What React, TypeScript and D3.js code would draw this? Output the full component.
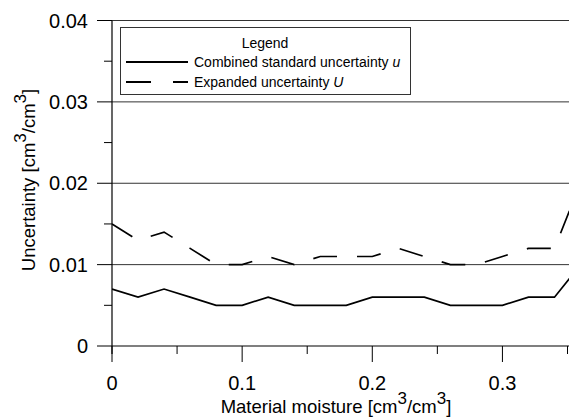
import * as d3 from "d3";

const moisture = [0, 0.02, 0.04, 0.06, 0.08, 0.1, 0.12, 0.14, 0.16, 0.18, 0.2, 0.22, 0.24, 0.26, 0.28, 0.3, 0.32, 0.34, 0.36];
const combinedU = [0.007, 0.006, 0.007, 0.006, 0.005, 0.005, 0.006, 0.005, 0.005, 0.005, 0.006, 0.006, 0.006, 0.005, 0.005, 0.005, 0.006, 0.006, 0.01];
const expandedU = [0.015, 0.013, 0.014, 0.012, 0.01, 0.01, 0.011, 0.01, 0.011, 0.011, 0.011, 0.012, 0.011, 0.01, 0.01, 0.011, 0.012, 0.012, 0.02];
const xTicks = [0, 0.1, 0.2, 0.3];
const xMinor = [0.05, 0.15, 0.25, 0.35];
const yTicks = [0, 0.01, 0.02, 0.03, 0.04];
const yMinor = [0.005, 0.015, 0.025, 0.035];

const W = 569;
const H = 419;
const FONT = "Arial, 'Liberation Sans', sans-serif";

// "[cm3/cm3]" with raised 3s
function Units() {
  return (
    <>
      [cm<tspan fontSize={17} dy={-9}>3</tspan>
      <tspan dy={9}>/cm</tspan>
      <tspan fontSize={17} dy={-9}>3</tspan>
      <tspan dy={9}>]</tspan>
    </>
  );
}

export default function App() {
  const x = d3.scaleLinear().domain([0, 0.35]).range([112, 567.5]);
  const y = d3.scaleLinear().domain([0, 0.04]).range([346, 20.5]);

  const line = (vals: number[]) =>
    d3
      .line<number>()
      .x((_, i) => x(moisture[i]))
      .y((d) => y(d))(vals) || "";

  const fmt = (v: number) => (v === 0 ? "0" : String(v));

  return (
    <svg width={W} height={H} style={{ position: "absolute", left: 0, top: 0 }} fontFamily={FONT}>
      <defs>
        <clipPath id="plot">
          <rect x={112} y={0} width={W - 112} height={346} />
        </clipPath>
      </defs>

      {/* grid lines */}
      {yTicks.slice(1).map((t) => (
        <line key={t} x1={112} x2={W} y1={y(t)} y2={y(t)} stroke="#333" strokeWidth={1} />
      ))}

      {/* y axis */}
      <line x1={112} x2={112} y1={y(0.04)} y2={y(0) + 8} stroke="#000" strokeWidth={1.2} />
      {yTicks.map((t) => (
        <g key={t}>
          <line x1={97} x2={112} y1={y(t)} y2={y(t)} stroke="#000" />
          <text x={88} y={y(t)} dy="0.35em" textAnchor="end" fontSize={20}>
            {fmt(t)}
          </text>
        </g>
      ))}
      {yMinor.map((t) => (
        <line key={t} x1={104} x2={112} y1={y(t)} y2={y(t)} stroke="#000" />
      ))}

      {/* x axis */}
      <line x1={112} x2={W} y1={y(0)} y2={y(0)} stroke="#000" strokeWidth={1.2} />
      {xTicks.map((t) => (
        <g key={t}>
          <line x1={x(t)} x2={x(t)} y1={y(0)} y2={y(0) + 16} stroke="#000" />
          <text x={x(t)} y={390} textAnchor="middle" fontSize={20}>
            {fmt(t)}
          </text>
        </g>
      ))}
      {xMinor.map((t) => (
        <line key={t} x1={x(t)} x2={x(t)} y1={y(0)} y2={y(0) + 8} stroke="#000" />
      ))}

      {/* axis titles */}
      <text x={336} y={413} textAnchor="middle" fontSize={18.5}>
        Material moisture <Units />
      </text>
      <text transform="translate(35,180) rotate(-90)" textAnchor="middle" fontSize={18.5}>
        Uncertainty <Units />
      </text>

      {/* data lines */}
      <g clipPath="url(#plot)" fill="none" stroke="#000" strokeWidth={1.7}>
        <path d={line(combinedU)} />
        <path d={line(expandedU)} strokeDasharray="24 20" />
      </g>

      {/* legend */}
      <rect x={120.5} y={27.5} width={290} height={67} fill="#fff" stroke="#333" />
      <text x={265} y={48} textAnchor="middle" fontSize={14}>
        Legend
      </text>
      <line x1={126} x2={188} y1={62} y2={62} stroke="#000" strokeWidth={1.8} />
      <text x={194} y={67} fontSize={14}>
        Combined standard uncertainty <tspan fontStyle="italic">u</tspan>
      </text>
      <line x1={126} x2={188} y1={82} y2={82} stroke="#000" strokeWidth={1.8} strokeDasharray="25 22" />
      <text x={194} y={87} fontSize={14}>
        Expanded uncertainty <tspan fontStyle="italic">U</tspan>
      </text>
    </svg>
  );
}
